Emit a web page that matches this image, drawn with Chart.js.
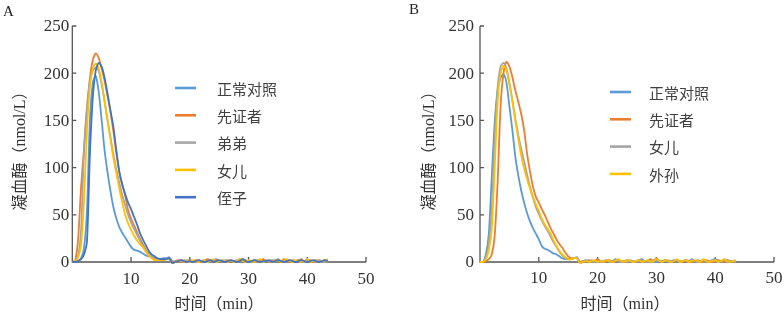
<!DOCTYPE html>
<html><head><meta charset="utf-8">
<script src="https://cdn.jsdelivr.net/npm/chart.js@4.4.1/dist/chart.umd.min.js"></script>
<style>
html,body{margin:0;padding:0;background:#fff;}
#wrap{position:relative;width:784px;height:317px;overflow:hidden;background:#fff;}
.panel{position:absolute;top:0;width:392px;height:317px;}
.lbl{position:absolute;font:15px "Liberation Serif","Times New Roman",serif;color:#222;line-height:16px;}
</style></head><body>
<div id="wrap">
<div class="panel" style="left:0"><canvas id="cA" width="392" height="317"></canvas></div>
<div class="panel" style="left:392px"><canvas id="cB" width="392" height="317"></canvas></div>
<div class="lbl" style="left:3px;top:3px">A</div>
<div class="lbl" style="left:409px;top:1px">B</div>
</div>
<script>
// time points (min)
const times = [0,0.5,1,1.5,2,2.5,3,3.5,4,4.5,5,5.5,6,6.5,7,7.5,8,8.5,9,9.5,10,10.5,11,11.5,12,12.5,13,13.5,14,14.5,15,15.5,16,
16.5,17,17.5,18,18.5,19,19.5,20,20.5,21,21.5,22,22.5,23,23.5,24,24.5,25,25.5,26,26.5,27,27.5,28,28.5,29,29.5,30,30.5,31,31.5,32,32.5,33,33.5,34,34.5,35,35.5,36,36.5,37,37.5,38,38.5,39,39.5,40,40.5,41,41.5,42,42.5,43,43.5];

const xTicks = [10,20,30,40,50];
const yTicks = [0,50,100,150,200,250];
const xTitle = '时间（min）';
const yTitle = '凝血酶（nmol/L）';

// Panel A
const labelsA = ['正常对照','先证者','弟弟','女儿','侄子'];
const a_normal = [0,0,1,4,15, 55,150,190,197,180, 150,118,95,75,58, 46,37,31,26,21, 16,13,12,11,9, 7,6,5,4,3, 3,4,4,
 5,1,0,1,2, 1,0,2,1,1, 0,1,2,1,0, 1,3,1,0,2, 1,1,0,2,1, 3,1,0,1,2, 0,1,2,1,0, 2,1,3,1,0, 1,2,0,1,2, 1,0,3,1,1, 2,0,1,2,1];
const a_proband = [0,2,25,80,120, 160,195,214,221,216, 205,192,176,159,138, 115,95,82,70,55, 46,39,32,25,19, 13,9,6,4,3, 2,2,3,
 4,0,1,2,0, 1,2,1,0,2, 1,0,1,3,1, 0,2,1,1,0, 2,1,0,1,3, 1,2,0,1,0, 2,1,3,1,0, 1,2,1,0,3, 1,0,2,1,1, 3,0,1,2,0, 1,2,1,0,2];
const a_brother = [0,1,6,35,120, 165,192,203,206,202, 188,170,150,132,114, 98,84,71,60,50, 42,35,29,23,17, 12,9,6,4,3, 2,3,3,
 4,-1,0,1,1, 2,0,1,1,0, 2,1,0,1,2, 1,0,1,2,1, 0,2,1,0,1, 2,1,1,0,2, 1,0,1,2,1, 0,1,2,1,0, 2,1,0,1,2, 1,0,1,2,1, 0,2,1,0,1];
const a_daughter = [0,1,5,18,65, 140,185,205,210,205, 190,170,150,130,110, 94,78,63,50,41, 34,28,23,19,16, 11,7,4,2,2, 2,2,3,
 3,-1,0,1,2, 0,1,0,2,1, 0,1,2,0,1, 3,0,1,2,1, 0,2,0,1,3, 1,0,2,1,0, 1,3,0,1,2, 0,1,2,0,1, 3,1,0,2,1, 0,1,3,0,1, 2,0,1,2,3];
const a_nephew = [0,0,1,3,8, 22,115,175,203,211, 207,195,178,160,143, 118,96,82,72,63, 56,48,40,31,24, 18,12,8,6,4, 3,3,3,
 4,-1,0,1,2, 1,0,1,0,1, 2,1,0,1,2, 0,1,2,1,0, 1,2,1,0,1, 3,1,0,1,2, 1,0,1,1,2, 0,1,2,1,0, 1,2,1,0,1, 2,1,0,1,2, 1,0,1,2,1];

// Panel B
const labelsB = ['正常对照','先证者','女儿','外孙'];
const b_normal = [0,0,8,30,90, 148,182,195,199,190, 165,140,112,92,76, 63,52,43,36,30, 24,17,14,13,11, 9,8,6,4,3, 3,3,4,
 5,0,1,2,1, 0,1,2,0,1, 2,1,0,3,1, 0,1,2,1,0, 1,2,3,1,0, 1,2,0,1,1, 2,0,1,2,1, 0,1,2,0,3, 1,0,1,2,1, 0,2,3,1,0, 1,2,1,0,1];
const b_proband = [0,0,1,3,8, 28,85,165,200,212, 207,196,182,170,157, 140,115,96,80,69, 63,56,50,43,36, 30,24,19,15,10, 6,4,4,
 4,0,1,1,2, 0,1,3,1,0, 1,2,0,1,2, 1,0,2,1,1, 0,2,1,0,1, 3,0,4,1,0, 2,1,0,1,2, 1,0,2,1,0, 1,2,1,0,2, 1,0,1,2,1, 0,2,1,0,1];
const b_daughter = [0,0,4,20,55, 130,185,207,211,205, 190,172,152,135,120, 107,93,80,68,58, 51,44,38,33,27, 21,16,11,7,4, 3,3,4,
 4,-1,0,1,1, 2,0,1,0,1, 2,0,1,2,1, 0,1,0,2,1, 0,1,2,1,0, 1,0,2,1,0, 1,2,0,1,2, 0,1,1,0,2, 1,0,1,2,0, 1,2,1,0,1, 2,0,1,1,0];
const b_grandson = [0,0,3,13,35, 100,170,200,208,203, 188,170,150,131,113, 99,88,78,69,61, 54,46,40,35,30, 23,17,12,8,5, 3,3,4,
 4,-1,0,1,0, 1,2,0,1,0, 2,1,0,1,3, 1,0,2,1,0, 1,2,0,1,2, 0,1,3,1,0, 2,1,0,1,3, 0,1,2,0,1, 2,1,0,3,1, 0,1,2,0,1, 3,1,0,1,2];

const colors = {blue:'#5B9BD5', orange:'#ED7D31', gray:'#A5A5A5', gold:'#FFC000', dblue:'#4472C4'};
const SERIF = '"Liberation Serif", "Times New Roman", serif';
const MIXED = '"Liberation Serif", "Noto Sans CJK SC", serif';

function pts(vals){ return vals.map((v,i)=>({x:times[i], y:v})); }
function ds(label, vals, color, order){
  return {label, data: pts(vals), borderColor: color, backgroundColor: color, borderWidth: 1.8,
    pointRadius: 0, tension: 0.25, fill: false, clip: false, order};
}

const axisPlugin = {
  id: 'axisPlugin',
  beforeDatasetsDraw(chart){
    const {ctx, chartArea:a, scales:{x,y}} = chart;
    const o = chart.options.plugins.axisText;
    ctx.save();
    ctx.strokeStyle = '#555'; ctx.lineWidth = 1.3;
    ctx.beginPath();
    ctx.moveTo(a.left, a.top); ctx.lineTo(a.left, a.bottom); ctx.lineTo(a.right, a.bottom);
    yTicks.forEach(v=>{ if(v>0){ const py=y.getPixelForValue(v); ctx.moveTo(a.left,py); ctx.lineTo(a.left+4,py);} });
    xTicks.forEach(v=>{ const px=x.getPixelForValue(v); ctx.moveTo(px,a.bottom); ctx.lineTo(px,a.bottom-5); });
    ctx.stroke();
    // tick labels
    ctx.fillStyle = '#333';
    ctx.font = '17px ' + SERIF;
    ctx.textBaseline = 'middle';
    ctx.textAlign = 'right';
    yTicks.forEach(v=>{ ctx.fillText(String(v), a.left - o.ypad, y.getPixelForValue(v) + 1); });
    ctx.textAlign = 'center';
    xTicks.forEach(v=>{ ctx.fillText(String(v), x.getPixelForValue(v), a.bottom + o.xoff); });
    // axis titles
    ctx.font = '16px ' + MIXED;
    ctx.fillText(xTitle, o.xtx, o.xty);
    ctx.save();
    ctx.translate(o.ytx, (a.top + a.bottom) / 2 + 3);
    ctx.rotate(-Math.PI/2);
    ctx.fillText(yTitle, 0, 0);
    ctx.restore();
    ctx.restore();
  },
  afterDatasetsDraw(chart){
    const o = chart.options.plugins.customLegend;
    if(!o) return;
    const ctx = chart.ctx;
    ctx.save();
    chart.data.datasets.forEach((d,i)=>{
      const yy = o.y0 + i*o.dy;
      ctx.strokeStyle = d.borderColor; ctx.lineWidth = 2.6;
      ctx.beginPath(); ctx.moveTo(o.x1, yy); ctx.lineTo(o.x2, yy); ctx.stroke();
      ctx.fillStyle = '#404040'; ctx.font = '15px "Noto Sans CJK SC"';
      ctx.textBaseline = 'middle'; ctx.textAlign = 'left';
      ctx.fillText(d.label, o.tx, yy+1);
    });
    ctx.restore();
  }
};

function makeChart(id, datasets, cfg){
  return new Chart(document.getElementById(id), {
    type: 'line',
    data: {datasets},
    plugins: [axisPlugin],
    options: {
      responsive: false, animation: false, devicePixelRatio: 1,
      layout: {padding: {left: 0, top: 26, right: cfg.right, bottom: 0}},
      plugins: {legend: {display: false}, tooltip: {enabled: false},
        customLegend: cfg.legend, axisText: cfg.text},
      scales: {
        x: {type: 'linear', min: 0, max: 50,
          afterFit: s => { s.height = 55; },
          grid: {display: false, drawTicks: false}, border: {display: false},
          ticks: {display: false}, title: {display: false}
        },
        y: {type: 'linear', min: 0, max: 250,
          afterFit: s => { s.width = cfg.yw; },
          grid: {display: false, drawTicks: false}, border: {display: false},
          ticks: {display: false}, title: {display: false}
        }
      }
    }
  });
}

makeChart('cA', [
  ds(labelsA[0], a_normal, colors.blue, 5),
  ds(labelsA[1], a_proband, colors.orange, 4),
  ds(labelsA[2], a_brother, colors.gray, 3),
  ds(labelsA[3], a_daughter, colors.gold, 2),
  ds(labelsA[4], a_nephew, colors.dblue, 1)
], {right: 26, yw: 72.3,
    text: {ypad: 3, xoff: 18, xtx: 219, xty: 305, ytx: 21},
    legend: {x1: 175, x2: 196, tx: 217, y0: 88, dy: 27.3}});

makeChart('cB', [
  ds(labelsB[0], b_normal, colors.blue, 4),
  ds(labelsB[1], b_proband, colors.orange, 3),
  ds(labelsB[2], b_daughter, colors.gray, 2),
  ds(labelsB[3], b_grandson, colors.gold, 1)
], {right: 10, yw: 88,
    text: {ypad: 6, xoff: 17, xtx: 233, xty: 305, ytx: 38},
    legend: {x1: 218, x2: 239, tx: 257, y0: 92, dy: 27.3}});
</script>
</body></html>
